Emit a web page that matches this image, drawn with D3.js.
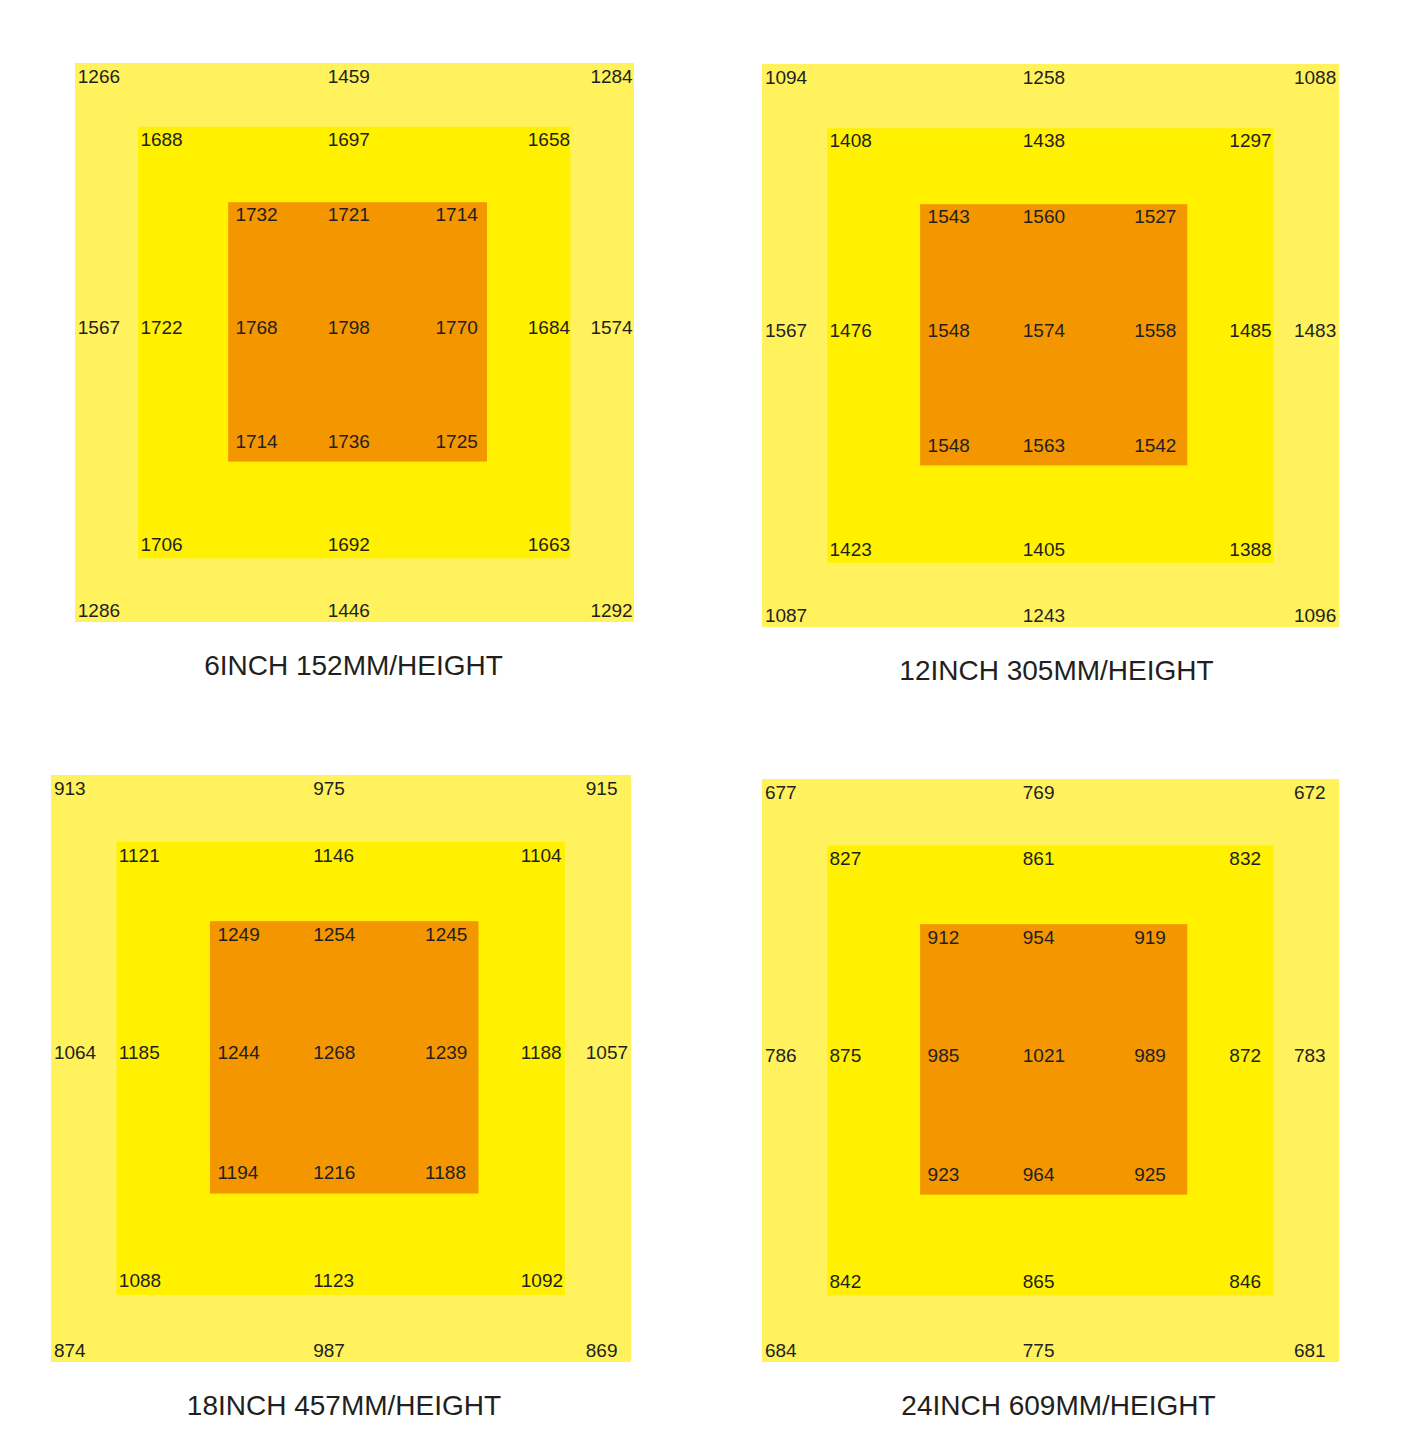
<!DOCTYPE html>
<html>
<head>
<meta charset="utf-8">
<script src="https://cdn.jsdelivr.net/npm/d3@7"></script>
<style>
  html, body { margin: 0; padding: 0; background: #ffffff; }
  svg { display: block; }
</style>
</head>
<body>
<svg id="chart" width="1417" height="1453"></svg>
<script>
// ---------- DATA ----------
const titles = ["6INCH 152MM/HEIGHT", "12INCH 305MM/HEIGHT", "18INCH 457MM/HEIGHT", "24INCH 609MM/HEIGHT"];

// Ring order: top-left, top, top-right, left, right, bottom-left, bottom, bottom-right
const outer6  = [1266, 1459, 1284, 1567, 1574, 1286, 1446, 1292];
const middle6 = [1688, 1697, 1658, 1722, 1684, 1706, 1692, 1663];
const inner6  = [1732, 1721, 1714, 1768, 1798, 1770, 1714, 1736, 1725];

const outer12  = [1094, 1258, 1088, 1567, 1483, 1087, 1243, 1096];
const middle12 = [1408, 1438, 1297, 1476, 1485, 1423, 1405, 1388];
const inner12  = [1543, 1560, 1527, 1548, 1574, 1558, 1548, 1563, 1542];

const outer18  = [913, 975, 915, 1064, 1057, 874, 987, 869];
const middle18 = [1121, 1146, 1104, 1185, 1188, 1088, 1123, 1092];
const inner18  = [1249, 1254, 1245, 1244, 1268, 1239, 1194, 1216, 1188];

const outer24  = [677, 769, 672, 786, 783, 684, 775, 681];
const middle24 = [827, 861, 832, 875, 872, 842, 865, 846];
const inner24  = [912, 954, 919, 985, 1021, 989, 923, 964, 925];

const panelsData = [
  { title: titles[0], outer: outer6,  middle: middle6,  inner: inner6 },
  { title: titles[1], outer: outer12, middle: middle12, inner: inner12 },
  { title: titles[2], outer: outer18, middle: middle18, inner: inner18 },
  { title: titles[3], outer: outer24, middle: middle24, inner: inner24 }
];

// ---------- LAYOUT ----------
const boxes = [
  { x0: 75,  y0: 63,  x1: 634,  y1: 622 },
  { x0: 762, y0: 64,  x1: 1339, y1: 627 },
  { x0: 51,  y0: 775, x1: 631,  y1: 1362 },
  { x0: 762, y0: 779, x1: 1339, y1: 1362 }
];
const titleShift = [-1, 6, 3, 8];

const colors = { outer: "#FFF25C", middle: "#FFF100", inner: "#F39600", text: "#231F20" };
// fractional extents of the three zones inside the outer square
const zones = [
  { key: "outer",  x: [0, 1],         y: [0, 1] },
  { key: "middle", x: [0.113, 0.886], y: [0.114, 0.886] },
  { key: "inner",  x: [0.274, 0.737], y: [0.249, 0.713] }
];
// label grid (7 columns: left edge fractions, 7 rows: centre fractions)
const colFrac = [0.005, 0.117, 0.287, 0.452, 0.645, 0.81, 0.922];
const rowFrac = [0.023, 0.136, 0.271, 0.473, 0.677, 0.861, 0.979];
const ringSlotsOuter  = [[0,0],[0,3],[0,6],[3,0],[3,6],[6,0],[6,3],[6,6]];
const ringSlotsMiddle = [[1,1],[1,3],[1,5],[3,1],[3,5],[5,1],[5,3],[5,5]];
const innerSlots = [[2,2],[2,3],[2,4],[3,2],[3,3],[3,4],[4,2],[4,3],[4,4]];

const svg = d3.select("#chart");
const font = "'Liberation Sans', Arial, Helvetica, sans-serif";

panelsData.forEach((p, i) => {
  const b = boxes[i];
  const xs = d3.scaleLinear().domain([0, 1]).range([b.x0, b.x1]);
  const ys = d3.scaleLinear().domain([0, 1]).range([b.y0, b.y1]);
  const g = svg.append("g").attr("class", "panel");

  g.selectAll("rect.zone").data(zones).join("rect")
    .attr("class", "zone")
    .attr("x", d => xs(d.x[0]))
    .attr("y", d => ys(d.y[0]))
    .attr("width", d => xs(d.x[1]) - xs(d.x[0]))
    .attr("height", d => ys(d.y[1]) - ys(d.y[0]))
    .attr("fill", d => colors[d.key]);

  const labels = []
    .concat(p.outer.map((v, k) => ({ v, slot: ringSlotsOuter[k] })))
    .concat(p.middle.map((v, k) => ({ v, slot: ringSlotsMiddle[k] })))
    .concat(p.inner.map((v, k) => ({ v, slot: innerSlots[k] })));

  g.selectAll("text.val").data(labels).join("text")
    .attr("class", "val")
    .attr("x", d => xs(colFrac[d.slot[1]]))
    .attr("y", d => ys(rowFrac[d.slot[0]]))
    .attr("dy", "0.36em")
    .attr("text-anchor", "start")
    .attr("font-family", font)
    .attr("font-size", 19)
    .attr("fill", colors.text)
    .text(d => d.v);

  g.append("text")
    .attr("x", (b.x0 + b.x1) / 2 + titleShift[i])
    .attr("y", b.y1 + 53)
    .attr("text-anchor", "middle")
    .attr("font-family", font)
    .attr("font-size", 28)
    .attr("fill", colors.text)
    .text(p.title);
});
</script>
</body>
</html>
